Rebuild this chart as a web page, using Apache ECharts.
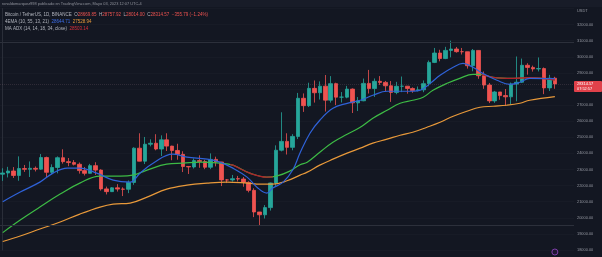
<!DOCTYPE html>
<html><head><meta charset="utf-8">
<script src="https://cdn.jsdelivr.net/npm/echarts@6/dist/echarts.min.js"></script>
<style>html,body{margin:0;padding:0;background:#131722;}#c{width:602px;height:257px;}</style>
</head><body><div id="c"></div>
<script>
const categories = ['Jan 22','Jan 23','Jan 24','Jan 25','Jan 26','Jan 27','Jan 28','Jan 29','Jan 30','Jan 31',
'Feb 1','Feb 2','Feb 3','Feb 4','Feb 5','Feb 6','Feb 7','Feb 8','Feb 9','Feb 10','Feb 11','Feb 12','Feb 13','Feb 14','Feb 15','Feb 16','Feb 17','Feb 18','Feb 19','Feb 20','Feb 21','Feb 22','Feb 23','Feb 24','Feb 25','Feb 26','Feb 27','Feb 28',
'Mar 1','Mar 2','Mar 3','Mar 4','Mar 5','Mar 6','Mar 7','Mar 8','Mar 9','Mar 10','Mar 11','Mar 12','Mar 13','Mar 14','Mar 15','Mar 16','Mar 17','Mar 18','Mar 19','Mar 20','Mar 21','Mar 22','Mar 23','Mar 24','Mar 25','Mar 26','Mar 27','Mar 28','Mar 29','Mar 30','Mar 31',
'Apr 1','Apr 2','Apr 3','Apr 4','Apr 5','Apr 6','Apr 7','Apr 8','Apr 9','Apr 10','Apr 11','Apr 12','Apr 13','Apr 14','Apr 15','Apr 16','Apr 17','Apr 18','Apr 19','Apr 20','Apr 21','Apr 22','Apr 23','Apr 24','Apr 25','Apr 26','Apr 27','Apr 28','Apr 29','Apr 30',
'May 1','May 2','May 3'];

const open = [22707,22783,22907,22632,23060,23009,23074,23022,23742,22826,
23125,23732,23488,23431,23326,22932,22762,23240,22963,21796,21625,21862,21783,21773,22199,24324,23517,24569,24631,24271,24842,24452,24183,23940,23185,23157,23554,23492,
23141,23628,23465,22354,22346,22430,22410,22197,21705,20362,20187,20632,22163,24197,24746,24375,25055,27423,26965,28039,27768,28175,27308,28333,27494,27494,27995,27139,27268,28348,28028,
28478,28411,28200,27790,28169,28175,28033,27906,27948,28333,29652,30235,29892,30399,30485,30318,30315,29445,30397,28822,28245,27262,27817,27591,27514,28307,28422,29473,29340,29248,
29268,28068,28669.85];

const close = [22783,22907,22632,23060,23009,23074,23022,23742,22826,23125,
23732,23488,23431,23326,22932,22762,23240,22963,21796,21625,21862,21783,21773,22199,24324,23517,24569,24631,24271,24842,24452,24183,23940,23185,23157,23554,23492,23141,
23628,23465,22354,22346,22430,22410,22197,21705,20362,20187,20632,22163,24197,24746,24375,25055,27423,26965,28039,27768,28175,27308,28333,27494,27494,27995,27139,27268,28348,28028,28478,
28411,28200,27790,28169,28175,28033,27906,27948,28333,29652,30235,29892,30399,30485,30318,30315,29445,30397,28822,28245,27262,27817,27591,27514,28307,28422,29473,29340,29248,29268,
28068,28669,28314.57];

const high = [23078,23165,23150,23816,23282,23500,23189,23960,23800,23320,
23812,24255,23715,23587,23433,23158,23350,23452,23011,21938,21906,22090,21894,22319,24380,25250,25021,24877,25192,25121,25250,24476,24600,24132,23219,23689,23880,23600,
23999,23795,23476,22410,22662,22602,22534,22268,21834,20367,20792,22185,24500,26553,25250,25196,27756,27725,28390,28528,28472,28868,28800,28390,27810,28194,28037,27500,28650,29185,28656,
28802,28500,28494,28444,28775,28190,28100,28155,28530,29770,30550,30436,30620,31000,30610,30549,30319,30485,30412,29088,28374,27882,27818,28000,28399,30020,29890,29600,29451,29960,
29338,28879,28757.92];

const low = [22293,22507,22475,22300,22850,22534,22878,22977,22500,22714,
22760,23363,23204,23253,22745,22628,22745,22665,21688,21451,21599,21630,21351,21533,22047,23505,23339,24437,24192,23840,24148,23574,23608,22841,22722,23059,23106,23020,
23021,23195,21971,22157,22247,22258,21927,21580,20042,19549,19956,20449,21918,24123,23930,24192,24890,26578,26880,27156,27346,26601,27154,27000,27160,27424,26508,26631,27241,27720,27511,
28255,27860,27200,27675,27805,27711,27766,27854,27801,28170,29610,29720,29853,29966,30257,30142,29268,29100,28634,28010,27125,27141,27331,26942,27020,27235,28375,28891,29080,29088,
27680,27872,28014];

// indicator lines: [bar index, price]
const emaBlue = [[0,21000],[3.2,21600],[6.8,22216],[9.2,22774],[11.8,23084],[14.1,23084],[17.2,22774],[20.2,22340],[23.3,22216],[25.1,22770],[27.5,23390],[31.1,23950],[33.7,23770],[37.4,23640],[39.7,23456],[42.1,23084],[44.7,22526],[46.5,21900],[48.3,21534],[49.4,21850],[51.3,22216],[53.1,23000],[54.4,24040],[56.2,25254],[58,26060],[60.4,26800],[63,27110],[65.4,27300],[67.7,27610],[70.3,27860],[73.9,27860],[76.3,27920],[78.2,28350],[80,28850],[82.4,29350],[84.2,29590],[86,29350],[87.8,28970],[90.4,28540],[92.8,28290],[94.6,28420],[96.4,28660],[101,28645]];
const emaOrange = [[0,18530],[3.2,18868],[6.8,19302],[10.5,19736],[14.1,20232],[17.8,20666],[20.2,20852],[23.3,20914],[26.4,21286],[30,21782],[33.7,22030],[37.4,22154],[41,22216],[44.7,22154],[47.1,22092],[49.4,22092],[52,22300],[54.4,22650],[55.7,22836],[58,23270],[60.4,23642],[63,24014],[65.4,24324],[67.7,24634],[70.3,24882],[72.7,25130],[75,25316],[77.6,25626],[80,25936],[82.4,26308],[84.9,26618],[87.3,26866],[89.7,26928],[92.2,26990],[94.6,27114],[96.4,27300],[101,27529]];
const maAdx = [[0,19080],[3.2,19860],[6.8,20666],[10.5,21472],[14.1,22154],[17.8,22588],[21.5,22588],[23.8,22650],[26.4,22960],[30,23332],[33,23394],[36.1,23456],[39.7,23394],[42.1,23270],[45.2,22774],[48.3,22526],[50.2,22600],[52.5,22900],[54.4,23300],[55.7,23456],[58,24076],[60.4,24696],[63,25192],[65.4,25626],[67.7,26184],[70.3,26680],[72.7,27114],[75,27300],[76.9,27486],[78.7,27920],[81.3,28354],[83.6,28664],[86,28912],[87.3,28912],[89.7,28726],[93.3,28664],[96.4,28700],[101,28560]];
const adxWeak1 = [[41.6,23300],[42.1,23270],[45.2,22774],[48.3,22526],[49.4,22540]];
const adxWeak2 = [[87.6,28905],[89.7,28726],[93.3,28664],[96.4,28700],[101,28560]];
const yTicks = {min:18000, max:33000, step:1000};
const levels = [30900, 19550];
const lastPrice = 28314.57;

const pad = ['', '', ''];
const xCats = categories.concat(pad);
const candleData = categories.map((c,i)=>[open[i], close[i], low[i], high[i]]);

const chart = echarts.init(document.getElementById('c'), null, {renderer:'canvas'});
const FF = 'Liberation Sans, Arial, sans-serif';
const UP = '#26a69a', DN = '#ef5350';

const option = {
  backgroundColor:'#131722',
  animation:false,
  grid:{left:0, right:28, top:8.5, bottom:7},
  xAxis:[
    {type:'category', data:xCats, boundaryGap:true, show:false},
    {type:'value', min:-0.5, max:xCats.length-0.5, show:false}
  ],
  yAxis:{type:'value', position:'right', min:yTicks.min, max:yTicks.max, interval:yTicks.step,
    axisLine:{show:true, lineStyle:{color:'#2a2e39'}}, axisTick:{show:false},
    splitLine:{show:true, lineStyle:{color:'#171b26', width:1}},
    axisLabel:{showMaxLabel:false, color:'#9598a1', fontSize:3.9, fontFamily:FF, margin:3, align:'left',
      formatter:v=>v.toFixed(2)}},
  series:[
    {type:'candlestick', xAxisIndex:0, data:candleData, barWidth:4,
      itemStyle:{color:UP, color0:DN, borderColor:UP, borderColor0:DN, borderWidth:0.8},
      markLine:{silent:true, symbol:['none','none'], label:{show:false},
        data:[
          {yAxis:levels[0], lineStyle:{color:'#2c303b', width:1, type:'solid'}},
          {yAxis:levels[1], lineStyle:{color:'#2c303b', width:1, type:'solid'}},
          {yAxis:lastPrice, lineStyle:{color:'rgba(150,120,130,0.22)', width:1, type:'dotted'}}
        ]}},
    {type:'line', xAxisIndex:1, data:emaOrange, smooth:0.4, showSymbol:false, lineStyle:{color:'#e8993a', width:1.2}},
    {type:'line', xAxisIndex:1, data:maAdx, smooth:0.4, showSymbol:false, lineStyle:{color:'#3dbb45', width:1.2}},
    {type:'line', xAxisIndex:1, data:adxWeak1, smooth:0.4, showSymbol:false, lineStyle:{color:'#b3202a', width:1.3}},
    {type:'line', xAxisIndex:1, data:adxWeak2, smooth:0.4, showSymbol:false, lineStyle:{color:'#b3202a', width:1.3}},
    {type:'line', xAxisIndex:1, data:emaBlue, smooth:0.4, showSymbol:false, lineStyle:{color:'#2f62d8', width:1.2}}
  ]
};
chart.setOption(option);

const py = chart.convertToPixel({yAxisIndex:0}, lastPrice);
const lastX = chart.convertToPixel({xAxisIndex:1}, categories.length-1);
const red = '#ef5350';
chart.setOption({graphic:[
  {type:'rect', shape:{x:0,y:0,width:602,height:7}, style:{fill:'#181c28'}, z:0, silent:true},
  {type:'text', left:2, top:1.6, style:{text:'ronaldomarquez998 publicado en TradingView.com, Mayo 03, 2023 12:07 UTC-4', fill:'#8f929b', font:'3.9px '+FF}},
  {type:'text', left:5, top:12.5, style:{rich:{
      a:{fill:'#b2b5be', font:'4.5px '+FF}, r:{fill:red, font:'4.5px '+FF}},
      text:'{a|Bitcoin / TetherUS, 1D, BINANCE  O}{r|28669.85}{a|  H}{r|28757.92}{a|  L}{r|28014.00}{a|  C}{r|28314.57}{r|  −355.79 (−1.24%)}'}},
  {type:'text', left:5, top:19.5, style:{rich:{
      a:{fill:'#b2b5be', font:'4.5px '+FF}, b:{fill:'#3d6ee8', font:'4.5px '+FF}, o:{fill:'#e8993a', font:'4.5px '+FF}},
      text:'{a|4EMA (10, 55, 13, 21)  }{b|28644.71}{a|  }{o|27528.94}'}},
  {type:'text', left:5, top:26.5, style:{rich:{
      a:{fill:'#b2b5be', font:'4.5px '+FF}, r:{fill:'#d8303a', font:'4.5px '+FF}},
      text:'{a|MA ADX (14, 14, 18, 34, close)  }{r|28503.14}'}},
  {type:'text', left:577, top:9, style:{text:'USDT', fill:'#9598a1', font:'3.9px '+FF}},
  {type:'rect', shape:{x:574, y:py-3, width:28, height:11, r:1}, style:{fill:'#e0414a'}, z:10},
  {type:'text', left:577, top:py-2, z:11, style:{text:'28314.57', fill:'#ffffff', font:'3.9px '+FF}},
  {type:'text', left:577, top:py+3, z:11, style:{text:'07:52:57', fill:'#ffffff', font:'3.9px '+FF}},
  {type:'circle', shape:{cx:lastX, cy:252, r:3}, style:{fill:'#1f1732', stroke:'#7d3fa8', lineWidth:1}}
]});
</script></body></html>
